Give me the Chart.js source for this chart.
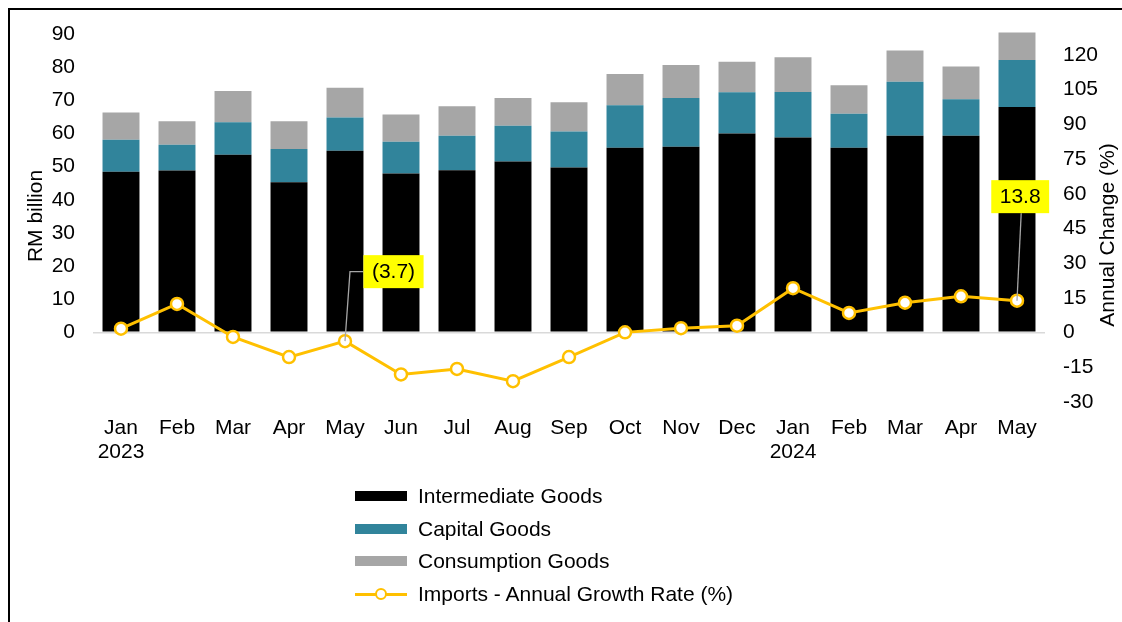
<!DOCTYPE html>
<html><head><meta charset="utf-8">
<script src="https://cdn.jsdelivr.net/npm/chart.js@4.4.1/dist/chart.umd.min.js"></script>
<style>
html,body{margin:0;padding:0;background:#fff;overflow:hidden;}
#wrap{position:relative;width:1122px;height:622px;overflow:hidden;}
#frame{position:absolute;left:8px;top:8px;width:1300px;height:800px;border-left:2px solid #000;border-top:2px solid #000;box-sizing:border-box;}
canvas{position:absolute;left:0;top:0;}
#legend{position:absolute;left:355px;top:479.7px;font-family:"Liberation Sans",Arial,sans-serif;font-size:21px;color:#000;}
.item{height:32.7px;display:flex;align-items:center;white-space:nowrap;}
.sw{width:52px;height:10px;margin-right:11px;position:relative;}
.ln{position:absolute;left:0;top:3.5px;width:52px;height:3px;}
.dot{position:absolute;left:20px;top:-1px;width:8px;height:8px;border-radius:50%;background:#fff;border:2.5px solid #ffc000;}
</style>
</head><body>
<div id="wrap">
<canvas id="c" width="1122" height="622"></canvas>
<div id="frame"></div>
<div id="legend"></div>
</div>
<script>
const months = [['Jan','2023'],'Feb','Mar','Apr','May','Jun','Jul','Aug','Sep','Oct','Nov','Dec',['Jan','2024'],'Feb','Mar','Apr','May'];
const intermediate = [48.4,48.8,53.6,45.3,54.8,47.9,48.9,51.5,49.7,55.7,56.0,60.0,58.8,55.7,59.3,59.3,68.0];
const capital      = [9.7,7.8,9.8,10.0,10.0,9.6,10.4,10.8,10.9,12.8,14.7,12.4,13.7,10.2,16.3,11.0,14.1];
const consumption  = [8.2,7.1,9.4,8.4,9.0,8.2,8.9,8.4,8.8,9.4,9.9,9.2,10.5,8.6,9.4,9.9,8.3];
const growth       = [1.7,12.4,-1.9,-10.6,-3.7,-18.1,-15.7,-21.0,-10.6,0.1,1.9,3.0,19.2,8.5,12.9,15.7,13.8];
const leftTicks  = [0,10,20,30,40,50,60,70,80,90];
const rightTicks = [-30,-15,0,15,30,45,60,75,90,105,120];
const leftTitle  = 'RM billion';
const rightTitle = 'Annual Change (%)';

const FONT = '"Liberation Sans", Arial, sans-serif';
const callouts = [
  {index:4, dx:48.5, dy:-69.5, kind:'elbow'},
  {index:16, dx:3.2, dy:-104, kind:'straight'}
];
const calloutPlugin = {
  id:'callouts',
  afterDatasetsDraw(chart){
    const meta = chart.getDatasetMeta(3);
    const ctx = chart.ctx;
    ctx.save();
    ctx.font = '21px ' + FONT;
    callouts.forEach(c=>{
      const pt = meta.data[c.index];
      const v = growth[c.index];
      const txt = v < 0 ? '(' + Math.abs(v).toFixed(1) + ')' : v.toFixed(1);
      const w = ctx.measureText(txt).width + 17, h = 33;
      const bx = pt.x + c.dx, by = pt.y + c.dy;
      ctx.strokeStyle = '#a6a6a6'; ctx.lineWidth = 1.3;
      ctx.beginPath();
      if (c.kind === 'elbow') {
        ctx.moveTo(pt.x, pt.y); ctx.lineTo(pt.x + 5, by); ctx.lineTo(bx - w/2, by);
      } else {
        ctx.moveTo(bx + 1, by + h/2); ctx.lineTo(pt.x, pt.y);
      }
      ctx.stroke();
      ctx.fillStyle = '#ffff00';
      ctx.fillRect(bx - w/2, by - h/2, w, h);
      ctx.fillStyle = '#000'; ctx.textAlign = 'center'; ctx.textBaseline = 'middle';
      ctx.fillText(txt, bx, by + 1);
    });
    ctx.restore();
  }
};
// axis titles, both reading bottom-to-top
const titlePlugin = {
  id:'axisTitles',
  afterDraw(chart){
    const ctx = chart.ctx, a = chart.chartArea;
    const mid = (a.top + a.bottom) / 2;
    const items = [
      {text:leftTitle,  x:a.left - 57,  y:mid + 5},
      {text:rightTitle, x:a.right + 63, y:mid + 24}
    ];
    ctx.save();
    ctx.font = '21px ' + FONT; ctx.fillStyle = '#000';
    ctx.textAlign = 'center'; ctx.textBaseline = 'middle';
    items.forEach(t=>{
      ctx.save(); ctx.translate(t.x, t.y); ctx.rotate(-Math.PI/2);
      ctx.fillText(t.text, 0, 0); ctx.restore();
    });
    ctx.restore();
  }
};

function fixV(width){
  return function(s){ s.width = width; s.paddingTop = 0; s.paddingBottom = 0; };
}

const chart = new Chart(document.getElementById('c'), {
  type:'bar',
  data:{
    labels: months,
    datasets:[
      {label:'Intermediate Goods', data:intermediate, backgroundColor:'#000000', yAxisID:'y', order:1, categoryPercentage:1, barPercentage:0.66},
      {label:'Capital Goods', data:capital, backgroundColor:'#31849b', yAxisID:'y', order:1, categoryPercentage:1, barPercentage:0.66},
      {label:'Consumption Goods', data:consumption, backgroundColor:'#a6a6a6', yAxisID:'y', order:1, categoryPercentage:1, barPercentage:0.66},
      {label:'Imports - Annual Growth Rate (%)', type:'line', data:growth, yAxisID:'y1', order:0,
       borderColor:'#ffc000', borderWidth:3, pointRadius:6, pointBorderWidth:2.5,
       pointBackgroundColor:'#ffffff', pointBorderColor:'#ffc000', tension:0}
    ]
  },
  options:{
    responsive:false, animation:false,
    layout:{padding:{top:20,left:0,right:0,bottom:0}},
    plugins:{legend:{display:false}, tooltip:{enabled:false}},
    scales:{
      x:{stacked:true, grid:{display:false, drawTicks:false}, border:{display:false},
         ticks:{font:{family:FONT,size:21,lineHeight:1.15}, color:'#000', padding:14, maxRotation:0, autoSkip:false},
         afterFit(s){ s.height = 220; s.paddingLeft = 0; s.paddingRight = 0; }},
      y:{position:'left', stacked:true, min:-21, max:94.2,
         afterBuildTicks(s){ s.ticks = leftTicks.map(v=>({value:v})); },
         grid:{drawTicks:false, color:(c)=> c.tick && c.tick.value===0 ? '#d9d9d9' : 'rgba(0,0,0,0)', lineWidth:1.5},
         border:{display:false},
         ticks:{font:{family:FONT,size:21}, color:'#000', padding:18},
         afterFit: fixV(93)},
      y1:{position:'right', stacked:false, min:-30, max:135.1,
         afterBuildTicks(s){ s.ticks = rightTicks.map(v=>({value:v})); },
         grid:{display:false, drawTicks:false}, border:{display:false},
         ticks:{font:{family:FONT,size:21}, color:'#000', padding:18},
         afterFit: fixV(77)}
    }
  },
  plugins:[calloutPlugin, titlePlugin]
});

// legend built from the chart's datasets
const lg = document.getElementById('legend');
chart.data.datasets.forEach(ds=>{
  const it = document.createElement('div'); it.className='item';
  const sw = document.createElement('div'); sw.className='sw';
  if (ds.type === 'line') {
    const ln = document.createElement('div'); ln.className='ln'; ln.style.background = ds.borderColor; sw.appendChild(ln);
    const d = document.createElement('div'); d.className='dot'; sw.appendChild(d);
  } else {
    sw.style.background = ds.backgroundColor;
  }
  const tx = document.createElement('span'); tx.textContent = ds.label;
  it.appendChild(sw); it.appendChild(tx); lg.appendChild(it);
});
</script>
</body></html>
